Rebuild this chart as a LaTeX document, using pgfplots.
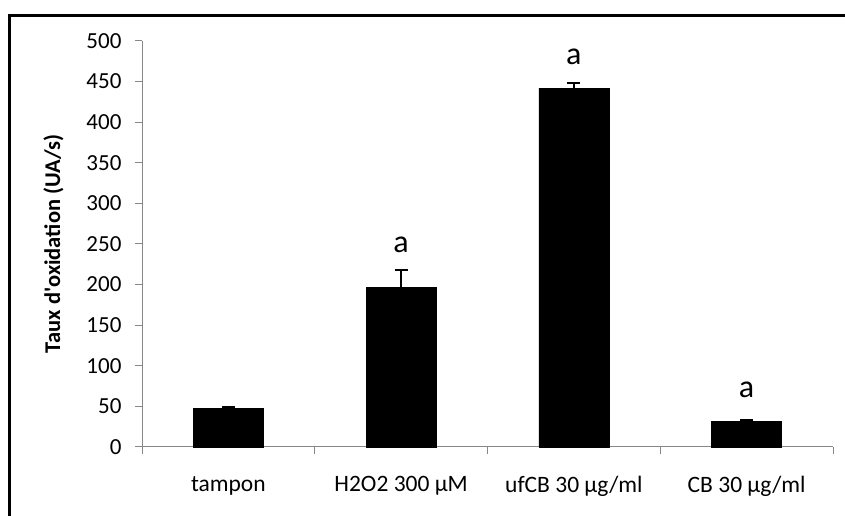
\documentclass[border=0pt]{standalone}
\usepackage{pgfplots}
\pgfplotsset{compat=1.18}
\usepackage{fontspec}
\setmainfont{Carlito}
\begin{document}
\begin{tikzpicture}
\useasboundingbox (0pt,0pt) rectangle (845pt,516pt);
% cropped chart frame (left and top edges only)
\draw[line width=3pt] (9.5pt,-2pt) -- (9.5pt,500pt) -- (847pt,500pt);
\begin{axis}[
    at={(142pt,69pt)}, anchor=south west,
    scale only axis,
    width=691pt, height=406pt,
    xmin=-0.5, xmax=3.5,
    ymin=0, ymax=500,
    ytick={0,50,...,500},
    xtick={0,1,2,3},
    xticklabels={tampon, H2O2 300 µM, ufCB 30 µg/ml, CB 30 µg/ml},
    minor xtick={-0.5,0.5,1.5,2.5,3.5},
    major x tick style={draw=none},
    axis x line*=bottom, axis y line*=left,
    axis line style={draw=black!47, line width=1pt},
    tick style={draw=black!47, line width=1pt},
    tick align=outside,
    major tick length=7pt, minor tick length=7pt,
    /pgf/number format/assume math mode=true,
    xticklabel style={font=\fontsize{23.5}{27}\selectfont, yshift=-19pt},
    yticklabel style={font=\fontsize{23}{27}\selectfont, xshift=-10pt},
    ylabel={Taux d\textquotesingle oxidation (UA/s)},
    ylabel style={font=\bfseries\fontsize{22.5}{26}\selectfont,
        at={(axis description cs:-0.128,0.5)}, anchor=center, rotate=0},
    clip=false,
]
% bars with upper error bars
\addplot[ybar, bar width=70pt, fill=black, draw=black,
    error bars/.cd, y dir=plus, y explicit,
    error bar style={black, line width=1.5pt},
    error mark options={black, line width=1.5pt, mark size=6.5pt, rotate=90}]
    coordinates {
        (0, 48)  +- (0, 1.5)
        (1, 197) +- (0, 21)
        (2, 442) +- (0, 6)
        (3, 32)  +- (0, 1.5)
    };
% significance letters
\addplot[draw=none, mark=none, nodes near coords, point meta=explicit symbolic,
    nodes near coords style={anchor=center, font=\fontsize{32}{36}\selectfont}]
    table[meta=lab] {
        x y lab
        1 249 a
        2 480 a
        3 70 a
    };
\end{axis}
\end{tikzpicture}
\end{document}
